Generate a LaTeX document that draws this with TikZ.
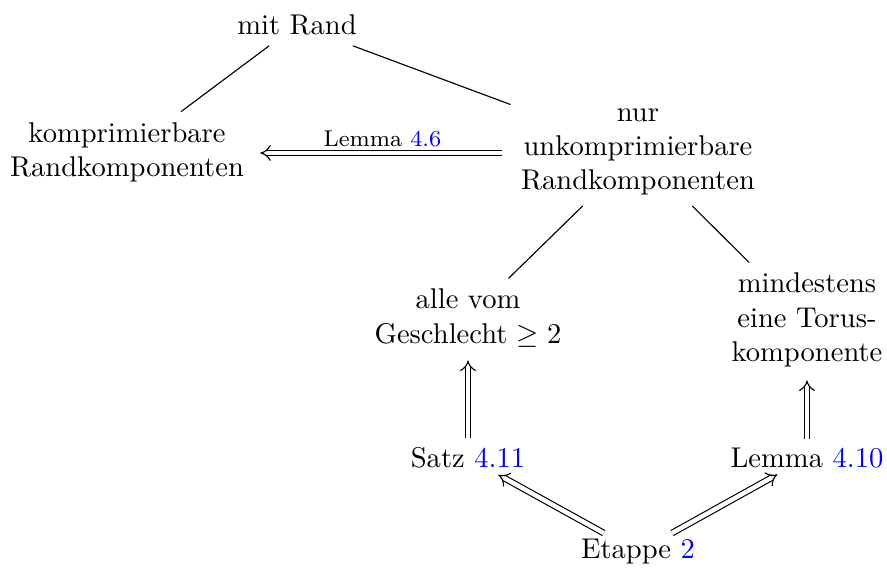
\documentclass[tikz,border=0pt]{standalone}
\usetikzlibrary{arrows.meta}
\begin{document}
\begin{tikzpicture}[x=0.35pt,y=-0.35pt,
  lbl/.style={align=center,inner sep=3.5pt},
  impl/.style={double,double equal sign distance,-{Implies},shorten >=1pt,shorten <=1pt}]
\useasboundingbox (0,0) rectangle (887,570);
\node[lbl] (rand) at (297,25) {mit Rand};
\node[lbl] (komp) at (127,152) {komprimierbare\\Randkomponenten};
\node[lbl] (unk) at (638,152) {nur\\unkomprimierbare\\Randkomponenten};
\node[lbl] (alle) at (468,318) {alle vom\\Geschlecht $\geq 2$};
\node[lbl] (tor) at (807,320) {mindestens\\eine Torus-\\komponente};
\node[lbl] (satz) at (468,458) {Satz \textcolor{blue}{4.11}};
\node[lbl] (lem) at (807,458) {Lemma \textcolor{blue}{4.10}};
\node[lbl] (etap) at (638,552) {Etappe \textcolor{blue}{2}};
\draw (rand) -- (komp);
\draw (rand) -- (unk);
\draw (unk) -- (alle);
\draw (unk) -- (tor);
\draw[impl,shorten <=3pt,shorten >=2pt] (unk.west |- 0,153) -- node[above,inner sep=2pt,font=\footnotesize] (l46) {Lemma \textcolor{blue}{4.6}} (komp.east |- 0,153);
\draw[impl,shorten <=-0.5pt] (satz) -- (alle);
\draw[impl,shorten <=-0.5pt] (lem) -- (tor);
\draw[impl,shorten <=-3pt,shorten >=-3pt] (etap) -- (satz);
\draw[impl,shorten <=-3pt,shorten >=-3pt] (etap) -- (lem);
\end{tikzpicture}
\end{document}
